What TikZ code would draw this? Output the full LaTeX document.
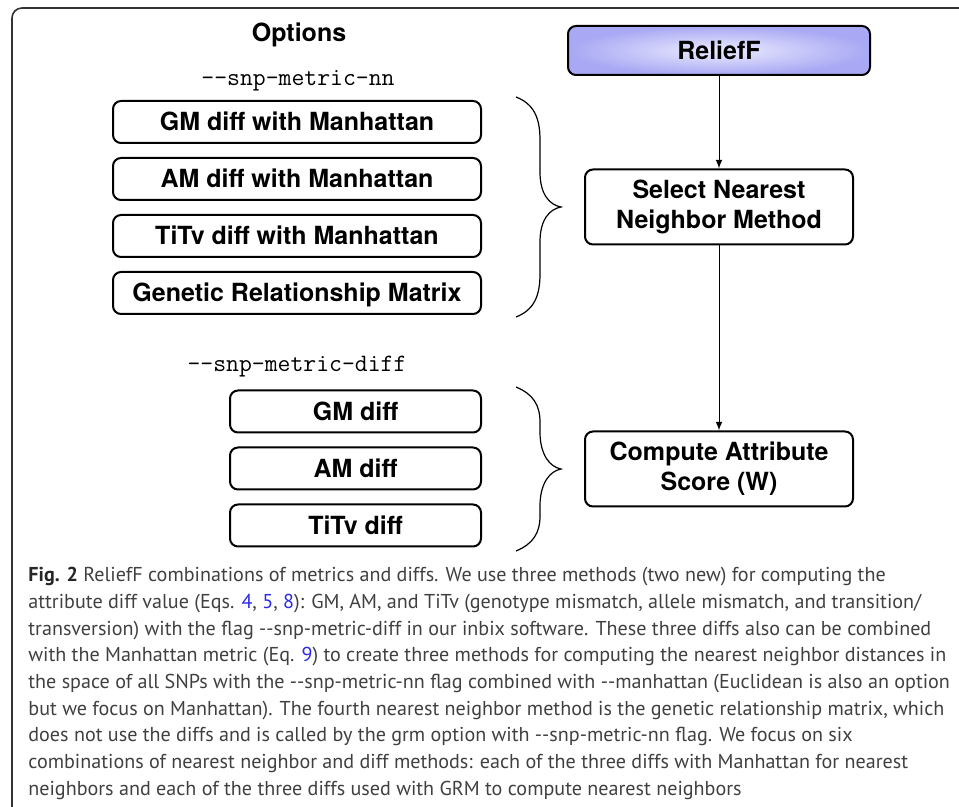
\documentclass[tikz,border=0pt]{standalone}
\usepackage{fontspec}
\setsansfont{TeX Gyre Heros}
\newfontfamily\captionFont{PT Sans}
\usepackage{tikz}

\definecolor{reliefInner}{HTML}{ECECFF}
\definecolor{reliefOuter}{HTML}{A8A8F4}
\definecolor{captionGray}{HTML}{404040}
\definecolor{linkBlue}{HTML}{2B2BE6}

\begin{document}
\begin{tikzpicture}[x=0.5pt,y=-0.5pt,%%
  boxFont/.style={font=\sffamily\bfseries\fontsize{12.5}{15}\selectfont},%%
  optionStyle/.style={boxFont,draw,line width=1pt,rounded corners=4pt,minimum height=21pt,inner sep=0pt,text height=9pt,text depth=0pt},%%
  nnStyle/.style={optionStyle,minimum width=184pt},%%
  diffStyle/.style={optionStyle,minimum width=125.5pt},%%
  stepStyle/.style={boxFont,draw,line width=1pt,rounded corners=4pt,minimum width=134pt,minimum height=37.5pt,align=center,inner sep=0pt},%%
  reliefStyle/.style={stepStyle,minimum width=151pt,minimum height=24.5pt,inner color=reliefInner,outer color=reliefOuter},%%
  flagStyle/.style={font=\ttfamily\fontsize{12.5}{15}\selectfont,inner sep=0pt},%%
  arrowStyle/.style={-latex,line width=0.5pt},%%
  braceStyle/.style={line width=0.6pt},%%
  frameStyle/.style={line width=0.8pt,draw=black!80,rounded corners=5pt},%%
  captionStyle/.style={font=\captionFont\fontsize{10.05}{13.35}\selectfont,text=captionGray,align=left,inner sep=0pt}%%
]
%%
\useasboundingbox (0,0) rectangle (959,807);
%%
\pgfmathsetmacro{\optx}{297}     %% centre of the option column
\pgfmathsetmacro{\diffx}{355.5}  %% centre of the diff boxes
\pgfmathsetmacro{\stepx}{719}    %% centre of the ReliefF column
\pgfmathsetmacro{\rowgap}{57}    %% distance between option boxes
\pgfmathsetmacro{\nny}{122}      %% first nearest neighbor box
\pgfmathsetmacro{\diffy}{411.5}  %% first diff box
%% The braces.
\pgfmathsetmacro{\bracex}{516}
\pgfmathsetmacro{\bracemid}{540}
\pgfmathsetmacro{\bracetip}{561}
\pgfmathsetmacro{\braceAtop}{97}
\pgfmathsetmacro{\braceAbot}{317}
\pgfmathsetmacro{\braceBtop}{387}
\pgfmathsetmacro{\braceBbot}{551}
\pgfmathsetmacro{\braceAmid}{(\braceAtop+\braceAbot)/2}
\pgfmathsetmacro{\braceBmid}{(\braceBtop+\braceBbot)/2}
%%
%% The frame round the figure.
\draw[frameStyle] (12,807) -- (12,8) -- (959,8);
%%
%% The options column.
\node[boxFont] (optionsHead) at (\optx+2,35) {Options};
\node[flagStyle] (nnFlag) at (\optx+1,81) {-{}-snp-metric-nn};
\node[nnStyle] (gmNN) at (\optx,\nny) {GM diff with Manhattan};
\node[nnStyle] (amNN) at (\optx,\nny+\rowgap) {AM diff with Manhattan};
\node[nnStyle] (titvNN) at (\optx,\nny+2*\rowgap) {TiTv diff with Manhattan};
\node[nnStyle] (grmNN) at (\optx,\nny+3*\rowgap) {Genetic Relationship Matrix};
\node[flagStyle] (diffFlag) at (\optx,367) {-{}-snp-metric-diff};
\node[diffStyle] (gmDiff) at (\diffx,\diffy) {GM diff};
\node[diffStyle] (amDiff) at (\diffx,\diffy+\rowgap) {AM diff};
\node[diffStyle] (titvDiff) at (\diffx,\diffy+2*\rowgap) {TiTv diff};
%%
%% The ReliefF column.
\node[reliefStyle] (relief) at (\stepx,50.5) {ReliefF};
\node[stepStyle] (selectNN) at (\stepx,\braceAmid) {Select Nearest\\Neighbor Method};
\node[stepStyle] (computeW) at (\stepx,\braceBmid) {Compute Attribute\\Score (W)};
\draw[arrowStyle] (relief) -- (selectNN);
\draw[arrowStyle] (selectNN) -- (computeW);
%%
%% Brace of the nearest neighbor options.
\draw[braceStyle] (\bracex,\braceAtop)
  .. controls (534,\braceAtop+7) and (\bracemid,\braceAtop+21) .. (\bracemid,\braceAtop+43)
  -- (\bracemid,\braceAmid-35)
  .. controls (\bracemid,\braceAmid-12) and (550,\braceAmid-2) .. (\bracetip,\braceAmid)
  .. controls (550,\braceAmid+2) and (\bracemid,\braceAmid+12) .. (\bracemid,\braceAmid+35)
  -- (\bracemid,\braceAbot-43)
  .. controls (\bracemid,\braceAbot-21) and (534,\braceAbot-7) .. (\bracex,\braceAbot);
%% Brace of the diff options.
\draw[braceStyle] (\bracex,\braceBtop)
  .. controls (533,\braceBtop+7) and (\bracemid,\braceBtop+18) .. (\bracemid,\braceBtop+35)
  -- (\bracemid,\braceBmid-37)
  .. controls (\bracemid,\braceBmid-14) and (550,\braceBmid-2) .. (\bracetip,\braceBmid)
  .. controls (550,\braceBmid+2) and (\bracemid,\braceBmid+14) .. (\bracemid,\braceBmid+37)
  -- (\bracemid,\braceBbot-35)
  .. controls (\bracemid,\braceBbot-18) and (533,\braceBbot-7) .. (\bracex,\braceBbot);
%%
%% The caption.
\node[captionStyle,anchor=north west] (caption) at (28,567) {%
{\color{black!85}\textbf{Fig. 2}} ReliefF combinations of metrics and diffs. We use three methods (two new) for computing the\\
attribute diff value (Eqs. {\color{linkBlue}4}, {\color{linkBlue}5}, {\color{linkBlue}8}): GM, AM, and TiTv (genotype mismatch, allele mismatch, and transition/\\
transversion) with the flag -{}-snp-metric-diff in our inbix software. These three diffs also can be combined\\
with the Manhattan metric (Eq. {\color{linkBlue}9}) to create three methods for computing the nearest neighbor distances in\\
the space of all SNPs with the -{}-snp-metric-nn flag combined with -{}-manhattan (Euclidean is also an option\\
but we focus on Manhattan). The fourth nearest neighbor method is the genetic relationship matrix, which\\
does not use the diffs and is called by the grm option with -{}-snp-metric-nn flag. We focus on six\\
combinations of nearest neighbor and diff methods: each of the three diffs with Manhattan for nearest\\
neighbors and each of the three diffs used with GRM to compute nearest neighbors};
\end{tikzpicture}
\end{document}
